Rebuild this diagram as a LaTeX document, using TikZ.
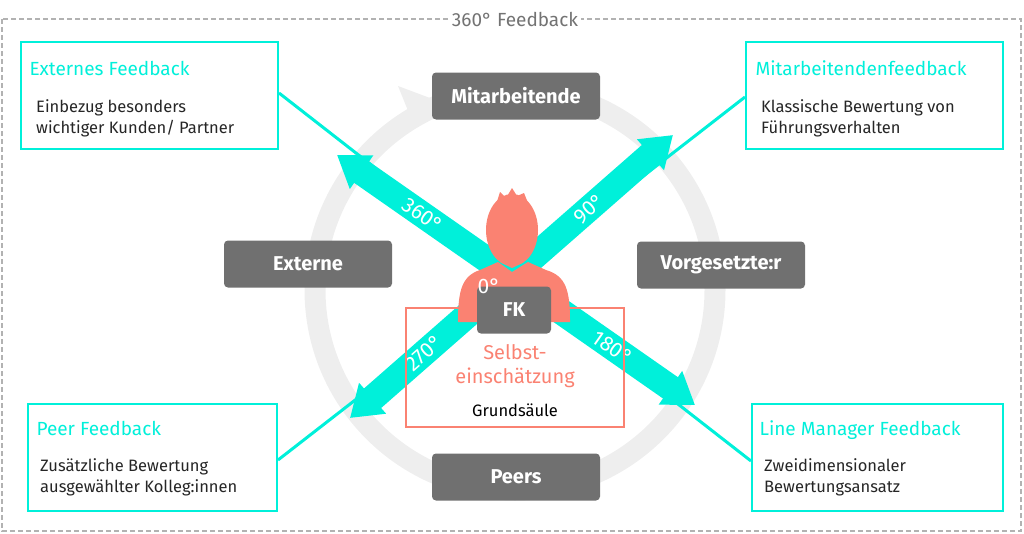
\documentclass[tikz,border=0pt]{standalone}
\usepackage{fontspec}
\setmainfont{Fira Sans}
\usetikzlibrary{arrows.meta}
\definecolor{cy}{HTML}{00F0DA}
\definecolor{gb}{HTML}{707070}
\definecolor{sal}{HTML}{FA8272}
\definecolor{ring}{HTML}{EEEEEE}
\begin{document}
\begin{tikzpicture}[x=1pt,y=-1pt,
  gbox/.style={fill=gb,rounded corners=4pt,text=white,font=\fontsize{20}{22}\selectfont\bfseries,minimum height=47pt,anchor=center},
  cbox/.style={draw=cy,line width=2pt,fill=white},
  ttl/.style={text=cy,font=\fontsize{19}{22}\selectfont,anchor=base west},
  body/.style={font=\fontsize{16.5}{21}\selectfont,align=left,anchor=north west,inner sep=0pt,text=black!85},
  band/.style={cy,line width=26pt,{Triangle[length=30pt,width'=0pt 1.3]}-{Triangle[length=30pt,width'=0pt 1.3]}},
  deg/.style={text=white,font=\fontsize{21}{22}\selectfont,inner sep=0pt}]
\useasboundingbox (0,0) rectangle (1024,533);
% outer dashed frame
\draw[gray!60,dashed,line width=1.6pt,dash pattern=on 5pt off 3pt] (2,19) rectangle (1021,531);
\node[fill=white,text=gray!90!black,font=\fontsize{19}{22}\selectfont,inner sep=3pt] (title) at (515,19) {360° Feedback};
% ring
\draw[ring,line width=21pt] (515,290) circle (200);
\fill[white] (480,60) rectangle (560,100);
\coordinate (ah) at (423,98);
\fill[ring] (398,86) -- (430,98) -- (415,128) -- cycle;
% cyan boxes and thin lines
\node[cbox,minimum width=257pt,minimum height=107pt,anchor=north west] (ext) at (20,41) {};
\node[cbox,minimum width=257pt,minimum height=107pt,anchor=north west] (mit) at (745,41) {};
\node[cbox,minimum width=249pt,minimum height=107pt,anchor=north west] (peer) at (27,403) {};
\node[cbox,minimum width=251pt,minimum height=107pt,anchor=north west] (lm) at (751,403) {};
\coordinate (e1) at (ext.east |- 0,93);
\coordinate (l1) at (lm.west |- 0,461);
\coordinate (m1) at (mit.west |- 0,97);
\coordinate (p1) at (peer.east |- 0,460);
\draw[cy,line width=3pt] (e1) -- (l1);
\draw[cy,line width=3pt] (m1) -- (p1);
% bands
\coordinate (b1) at (337,155); \coordinate (b2) at (695,405);
\coordinate (b3) at (673,135); \coordinate (b4) at (350,418);
\draw[band] (b1) -- (b2);
\draw[band] (b3) -- (b4);
\path (b1) -- (b2) node[deg,sloped,pos=0.24] (d360) {360°} node[deg,sloped,pos=0.77] (d180) {180°};
\path (b3) -- (b4) node[deg,sloped,pos=0.26] (d90) {90°} node[deg,sloped,pos=0.77] (d270) {270°};
% salmon rect
\draw[sal,line width=1.6pt] (406,308) rectangle (624,427);
% person
\fill[sal] (458,322) .. controls (458,290) and (462,276) .. (480,270) -- (498,262) -- (512,272) -- (528,262) -- (546,270) .. controls (566,276) and (570,290) .. (570,322) -- cycle;
\fill[sal] (512,230) ellipse (26 and 36);
\fill[sal] (495,208) -- (500,192) -- (506,198) -- (512,188) -- (517,196) -- (524,193) -- (530,208) -- cycle;
\fill[sal] (498,245) -- (526,245) -- (524,262) -- (512,268) -- (500,262) -- cycle;
% gray boxes
\node[gbox,minimum width=74pt] (fk) at (514,310) {FK};
\node[deg] (d0) at (489,286) {0°};
\node[gbox,minimum width=168pt] (mitb) at (516,96) {Mitarbeitende};
\node[gbox,minimum width=168pt] (extb) at (308,264) {Externe};
\node[gbox,minimum width=168pt] (vorb) at (721,265) {Vorgesetzte:r};
\node[gbox,minimum width=168pt] (peerb) at (516,477) {Peers};
% texts in salmon box
\node[text=sal,font=\fontsize{20}{24}\selectfont,align=center] (selbst) at (515,366) {Selbst-\\einschätzung};
\node[font=\fontsize{16.5}{20}\selectfont] (grund) at (515,410) {Grundsäule};
% box texts
\node[ttl] at (26,75) {Externes Feedback};
\node[body] at (36,99) {Einbezug besonders\\wichtiger Kunden/ Partner};
\node[ttl] at (752,75) {Mitarbeitendenfeedback};
\node[body] at (761,99) {Klassische Bewertung von\\Führungsverhalten};
\node[ttl] at (33,435) {Peer Feedback};
\node[body] at (40,458) {Zusätzliche Bewertung\\ausgewählter Kolleg:innen};
\node[ttl] at (756,435) {Line Manager Feedback};
\node[body] at (764,458) {Zweidimensionaler\\Bewertungsansatz};
\end{tikzpicture}
\end{document}
